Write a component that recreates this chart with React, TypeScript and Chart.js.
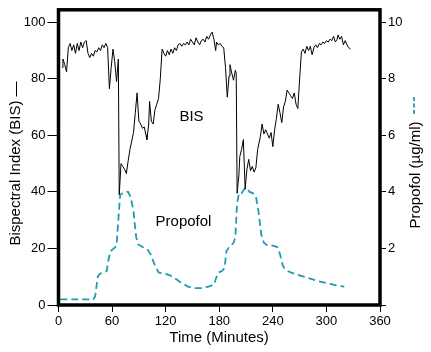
import { useEffect, useRef } from "react";
import { Chart, registerables } from "chart.js";

Chart.register(...registerables);

const bisTime = [
  4, 5, 7, 9, 11, 13, 15, 17, 19, 21, 23, 25, 27, 29, 31, 33, 35, 37, 39, 41, 43, 45, 47, 49, 51, 53, 55, 57, 59, 61, 63, 65, 67,
  68, 70, 72, 74, 76, 78, 80, 82, 84, 86, 88, 90, 92, 94, 96, 98, 99, 101, 102, 104, 106, 108, 110, 112, 114, 116, 118, 120, 122,
  124, 126, 128, 130, 132, 134, 136, 138, 140, 142, 144, 146, 148, 150, 152, 154, 156, 158, 160, 162, 164, 166, 168, 170, 172, 174,
  176, 177, 179, 181, 183, 185, 187, 189, 191, 192, 194, 196, 198, 199, 200, 202, 203, 205, 207, 209, 211, 213, 215, 217, 219, 221,
  223, 226, 228, 230, 232, 234, 236, 238, 240, 242, 244, 246, 248, 250, 252, 254, 256, 258, 260, 262, 264, 266, 268, 270, 272, 274,
  276, 278, 280, 282, 284, 286, 288, 290, 292, 294, 296, 298, 300, 302, 304, 306, 308, 310, 312, 313, 315, 317, 319, 321, 323, 325, 327,
];
const bisValue = [
  84, 87, 85, 82.5, 91, 92.5, 90, 92, 89, 92.5, 90, 93, 91, 93, 93.5, 89, 87.5, 89, 88, 90, 89.5, 91, 90, 92, 91, 92.5, 91, 76.5, 84, 90.5, 86, 79, 87,
  39, 50, 49, 48, 46.5, 51, 55, 58, 61, 68, 75, 65, 64, 62.5, 63, 60, 58.5, 64, 72, 65, 64, 69, 71, 73, 80, 90.5, 89, 88, 90,
  88.5, 90.5, 89, 91, 90, 92, 92.5, 91.5, 92.5, 92, 93, 92, 94, 93, 92, 94.5, 93, 92, 93.5, 94, 93, 95, 94, 95.5, 96.5, 94,
  90, 93, 92, 92.5, 91.5, 91, 84, 73.5, 81, 85, 82, 79.5, 83, 82, 39.5, 46, 52.5, 55, 58.5, 41, 48, 51.5, 47.5, 49, 47, 48.5,
  55, 59.5, 64, 60.5, 62, 60.5, 59, 61, 56, 62, 66, 71, 68, 64.5, 70, 72, 76, 75, 74, 73, 75, 71, 69.5, 80, 89.5, 90.5,
  89, 91.5, 90, 91.5, 88.5, 91, 92, 91, 92.5, 92, 93, 92.5, 93.5, 93, 94, 93.5, 95, 93, 94, 95.5, 94, 95, 92, 93.5, 92, 91, 90.5,
];

const propofolTime = [
  2, 39, 41, 44, 46, 50, 54, 56, 58, 62, 65, 67, 69, 72, 75, 78, 81, 84, 87, 89, 94, 99, 103, 108, 112, 120, 125, 130, 137, 145,
  152, 160, 168, 174, 177, 179, 183, 186, 188, 191, 196, 198, 200, 202, 205, 208, 211, 214, 218, 221, 224, 227, 230, 234, 240, 245,
  248, 251, 254, 260, 270, 280, 290, 300, 310, 320,
];
const propofolValue = [
  0.2, 0.2, 0.3, 1.0, 1.1, 1.15, 1.2, 1.6, 1.9, 2.0, 2.1, 3.0, 3.9, 3.95, 4.0, 4.0, 3.8, 3.3, 2.4, 2.15, 2.05, 2.0, 1.8, 1.4, 1.15, 1.1, 1.05, 0.95, 0.8, 0.65,
  0.6, 0.6, 0.65, 0.72, 1.0, 1.15, 1.2, 1.3, 1.9, 2.05, 2.2, 2.4, 3.6, 3.95, 3.95, 4.1, 4.15, 4.0, 3.95, 3.85, 3.3, 2.5, 2.2, 2.1, 2.1, 2.05,
  1.8, 1.4, 1.25, 1.15, 1.05, 0.95, 0.85, 0.78, 0.7, 0.65,
];

const xTicks = [0, 60, 120, 180, 240, 300, 360];
const bisTicks = [0, 20, 40, 60, 80, 100];
const propofolTicks = [0, 2, 4, 6, 8, 10];
const propofolTickLabels = ["", "2", "4", "6", "8", "10"];

const xTitle = "Time (Minutes)";
const leftTitle = "Bispectral Index (BIS) \u2014";
const rightTitle = "Propofol (\u00b5g/ml)";
const bisLabel = "BIS";
const propofolLabel = "Propofol";

const FAMILY = "'Liberation Sans', Arial, Helvetica, sans-serif";
const TEAL = "#1f9cb3";

export default function App() {
  const ref = useRef<HTMLCanvasElement>(null);

  useEffect(() => {
    document.body.style.margin = "0";
    const canvas = ref.current;
    if (!canvas) return;

    const decor = {
      id: "decor",
      afterDraw(chart: any) {
        const { ctx, chartArea } = chart;
        const { left, right, top, bottom } = chartArea;
        ctx.save();
        ctx.strokeStyle = "#000";
        ctx.lineWidth = 3.5;
        ctx.setLineDash([]);
        ctx.strokeRect(left, top, right - left, bottom - top);

        ctx.fillStyle = "#000";
        ctx.font = `15px ${FAMILY}`;
        ctx.textAlign = "center";
        ctx.textBaseline = "middle";
        ctx.fillText(xTitle, 219, 338);
        ctx.fillText(bisLabel, 191.5, 117);
        ctx.fillText(propofolLabel, 183.5, 222);

        ctx.save();
        ctx.translate(16, 163.5);
        ctx.rotate(-Math.PI / 2);
        ctx.fillText(leftTitle, 0, 0);
        ctx.restore();

        ctx.save();
        ctx.translate(416, 175);
        ctx.rotate(-Math.PI / 2);
        ctx.fillText(rightTitle, 0, 0);
        ctx.restore();

        ctx.strokeStyle = TEAL;
        ctx.lineWidth = 1.8;
        ctx.setLineDash([4, 2.5]);
        ctx.beginPath();
        ctx.moveTo(414, 114);
        ctx.lineTo(414, 96);
        ctx.stroke();
        ctx.restore();
      },
    };

    const tickFont = { size: 13, family: FAMILY };

    const chart = new Chart(canvas, {
      type: "line",
      data: {
        datasets: [
          {
            label: "BIS",
            data: bisTime.map((t, i) => ({ x: t, y: bisValue[i] })),
            borderColor: "#000",
            borderWidth: 1,
            pointRadius: 0,
            tension: 0,
            yAxisID: "y",
          },
          {
            label: "Propofol",
            data: propofolTime.map((t, i) => ({ x: t, y: propofolValue[i] })),
            borderColor: TEAL,
            borderWidth: 1.8,
            borderDash: [7, 4],
            pointRadius: 0,
            tension: 0,
            yAxisID: "y2",
          },
        ],
      },
      options: {
        responsive: false,
        animation: false,
        devicePixelRatio: 1,
        layout: { padding: { top: 7.5, left: 0, right: 0, bottom: 0 } },
        plugins: { legend: { display: false }, tooltip: { enabled: false } },
        scales: {
          x: {
            type: "linear",
            position: "bottom",
            min: 0,
            max: 360,
            afterBuildTicks: (s: any) => {
              s.ticks = xTicks.map((v) => ({ value: v }));
            },
            afterFit: (s: any) => {
              s.height = 47;
            },
            grid: { display: true, drawOnChartArea: false, drawTicks: true, tickLength: 7, color: "#000", lineWidth: 1 },
            border: { display: false },
            ticks: { font: tickFont, color: "#000", padding: 2, maxRotation: 0, autoSkip: false },
          },
          y: {
            type: "linear",
            position: "left",
            min: 0,
            max: 104.4,
            afterBuildTicks: (s: any) => {
              s.ticks = bisTicks.map((v) => ({ value: v }));
            },
            afterFit: (s: any) => {
              s.width = 58.5;
            },
            grid: { display: true, drawOnChartArea: false, drawTicks: true, tickLength: 11, color: "#000", lineWidth: 1 },
            border: { display: false },
            ticks: { font: tickFont, color: "#000", padding: 2, autoSkip: false },
          },
          y2: {
            type: "linear",
            position: "right",
            min: 0,
            max: 10.44,
            afterBuildTicks: (s: any) => {
              s.ticks = propofolTicks.map((v) => ({ value: v }));
            },
            afterFit: (s: any) => {
              s.width = 51;
            },
            grid: { display: true, drawOnChartArea: false, drawTicks: true, tickLength: 6, color: "#000", lineWidth: 1 },
            border: { display: false },
            ticks: {
              font: tickFont,
              color: "#000",
              padding: 2,
              autoSkip: false,
              callback: (_v: any, i: number) => propofolTickLabels[i],
            },
          },
        },
      },
      plugins: [decor],
    });

    return () => chart.destroy();
  }, []);

  return (
    <div style={{ position: "absolute", left: 0, top: 0, width: 431, height: 352, background: "#fff" }}>
      <canvas ref={ref} width={431} height={352} style={{ display: "block", width: 431, height: 352 }} />
    </div>
  );
}
